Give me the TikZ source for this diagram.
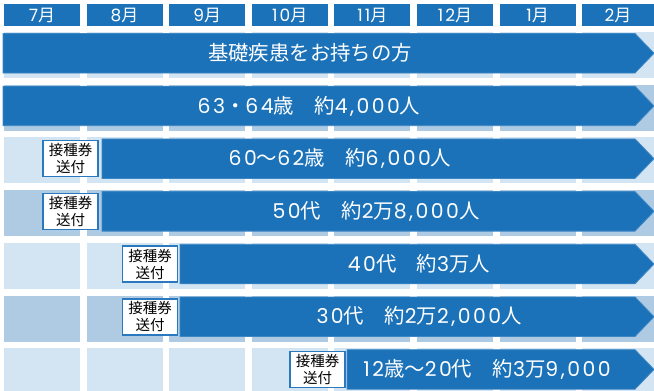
\documentclass[tikz,border=0pt]{standalone}
\usepackage{fontspec}
\setmainfont{Noto Sans CJK JP}
\newfontfamily\dg[LetterSpace=12]{Poppins}
\definecolor{barblue}{HTML}{1B72B8}
\definecolor{baredge}{HTML}{3E87C5}
\definecolor{bandL}{HTML}{D3E4F2}
\definecolor{bandD}{HTML}{AECBE3}
\definecolor{boxedge}{HTML}{2A78BD}
\begin{document}
\begin{tikzpicture}[x=1pt,y=-1pt,
  hdr/.style={text=white,font=\fontsize{17}{19}\selectfont,anchor=center,inner sep=0pt},
  bartext/.style={text=white,font=\fontsize{20.4}{24}\selectfont,anchor=center,inner sep=0pt},
  barshape/.style={fill=barblue,draw=baredge,line width=0.8pt},
  sendbox/.style={draw=boxedge,line width=1.6pt,fill=white,minimum width=55pt,minimum height=36pt,
    inner sep=0pt,align=center,font=\fontsize{14.5}{17}\selectfont,text=black}]
\useasboundingbox (0,0) rectangle (654,391);
\fill[white] (0,0) rectangle (654,391);
% background cells
\foreach \r/\c in {1/bandL,2/bandD,3/bandL,4/bandD,5/bandL,6/bandD,7/bandL}{
  \foreach \i in {0,...,7}{
    \pgfmathsetmacro\xx{4+82.6*\i}
    \pgfmathsetmacro\ww{min(76,654-\xx)}
    \pgfmathsetmacro\yy{32+52.7*(\r-1)}
    \pgfmathsetmacro\hh{min(46,391-\yy)}
    \fill[\c] (\xx,\yy) rectangle +(\ww,\hh);
  }
}
% headers
\foreach \i/\t in {0/{{\dg 7}月},1/{{\dg 8}月},2/{{\dg 9}月},3/{{\dg 10}月},4/{{\dg 11}月},5/{{\dg 12}月},6/{{\dg 1}月},7/{{\dg 2}月}}{
  \pgfmathsetmacro\xx{4+82.6*\i}
  \pgfmathsetmacro\ww{min(76,654-\xx)}
  \fill[barblue] (\xx,4) rectangle +(\ww,22);
  \node[hdr] (h\i) at ({\xx+\ww/2},15.5) {\t};
}
% bars
\fill[barshape] (3,33.5) -- (635,33.5) -- (654,53.25) -- (635,73) -- (3,73) -- cycle;
\node[bartext] (t1) at (310,53.25) {基礎疾患をお持ちの方};
\fill[barshape] (3,86.2) -- (635,86.2) -- (654,105.95) -- (635,125.7) -- (3,125.7) -- cycle;
\node[bartext] (t2) at (309,105.95) {{\dg 63}・{\dg 64}歳　約{\dg 4,000}人};
\fill[barshape] (102,138.9) -- (635,138.9) -- (654,158.65) -- (635,178.4) -- (102,178.4) -- cycle;
\node[bartext] (t3) at (340,158.65) {{\dg 60}〜{\dg 62}歳　約{\dg 6,000}人};
\node[sendbox] (b3) at (70.5,158.65) {接種券\\送付};
\fill[barshape] (102,191.6) -- (635,191.6) -- (654,211.35) -- (635,231.1) -- (102,231.1) -- cycle;
\node[bartext] (t4) at (376,211.35) {{\dg 50}代　約{\dg 2}万{\dg 8,000}人};
\node[sendbox] (b4) at (70.5,211.35) {接種券\\送付};
\fill[barshape] (180,244.3) -- (635,244.3) -- (654,264.05) -- (635,283.8) -- (180,283.8) -- cycle;
\node[bartext] (t5) at (419,264.05) {{\dg 40}代　約{\dg 3}万人};
\node[sendbox] (b5) at (150,264.05) {接種券\\送付};
\fill[barshape] (180,297) -- (635,297) -- (654,316.75) -- (635,336.5) -- (180,336.5) -- cycle;
\node[bartext] (t6) at (419,316.75) {{\dg 30}代　約{\dg 2}万{\dg 2,000}人};
\node[sendbox] (b6) at (150,316.75) {接種券\\送付};
\fill[barshape] (347,349.7) -- (635,349.7) -- (654,369.45) -- (635,389.2) -- (347,389.2) -- cycle;
\node[bartext] (t7) at (487,369.45) {{\dg 12}歳〜{\dg 20}代　約{\dg 3}万{\dg 9,000}};
\node[sendbox] (b7) at (317.5,369.45) {接種券\\送付};
\end{tikzpicture}
\end{document}
